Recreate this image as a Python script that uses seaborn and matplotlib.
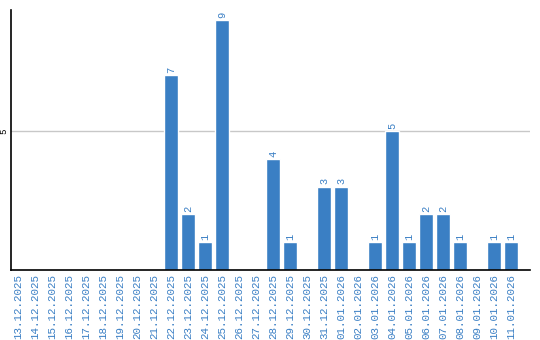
import matplotlib
matplotlib.use("Agg")
import matplotlib.pyplot as plt
import seaborn as sns
import pandas as pd

dates = ["13.12.2025", "14.12.2025", "15.12.2025", "16.12.2025", "17.12.2025",
         "18.12.2025", "19.12.2025", "20.12.2025", "21.12.2025", "22.12.2025",
         "23.12.2025", "24.12.2025", "25.12.2025", "26.12.2025", "27.12.2025",
         "28.12.2025", "29.12.2025", "30.12.2025", "31.12.2025", "01.01.2026",
         "02.01.2026", "03.01.2026", "04.01.2026", "05.01.2026", "06.01.2026",
         "07.01.2026", "08.01.2026", "09.01.2026", "10.01.2026", "11.01.2026"]
counts = [0, 0, 0, 0, 0, 0, 0, 0, 0, 7,
          2, 1, 9, 0, 0, 4, 1, 0, 3, 3,
          0, 1, 5, 1, 2, 2, 1, 0, 1, 1]

df = pd.DataFrame({"date": dates, "count": counts})
sns.set_style("white")
plt.rcParams['font.family'] = ['Liberation Mono', 'DejaVu Sans Mono']

color = "#3a7fc4"
fig = plt.figure(figsize=(5.4, 3.4), dpi=100)
ax = fig.add_axes([0.0204, 0.206, 0.961, 0.765])
sns.barplot(data=df, x="date", y="count", color=color, width=0.82,
            saturation=1, ax=ax, zorder=2)
ax.set_ylim(0, 9.36)
ax.set_xlim(-0.41, len(dates) + 0.1)
ax.set_yticks([5])
ax.set_yticklabels(["5"], fontsize=6.5, color="black", rotation=90, va="center")
ax.axhline(5, color="#c8c8c8", lw=1, zorder=1)
ax.tick_params(axis="y", length=0, pad=2)
ax.tick_params(axis="x", length=0, pad=3)
ax.set_xticks(range(len(dates)))
ax.set_xticklabels(dates, rotation=90, fontsize=7.8, color=color)
ax.set_xlabel("")
ax.set_ylabel("")
for s in ["top", "right"]:
    ax.spines[s].set_visible(False)
for s in ["left", "bottom"]:
    ax.spines[s].set_color("black")
    ax.spines[s].set_linewidth(1.2)
for i, v in enumerate(counts):
    if v > 0:
        ax.text(i, v + 0.08, str(v), rotation=90, ha="center", va="bottom",
                fontsize=7.5, color=color)
fig.savefig("out.png", dpi=100)
